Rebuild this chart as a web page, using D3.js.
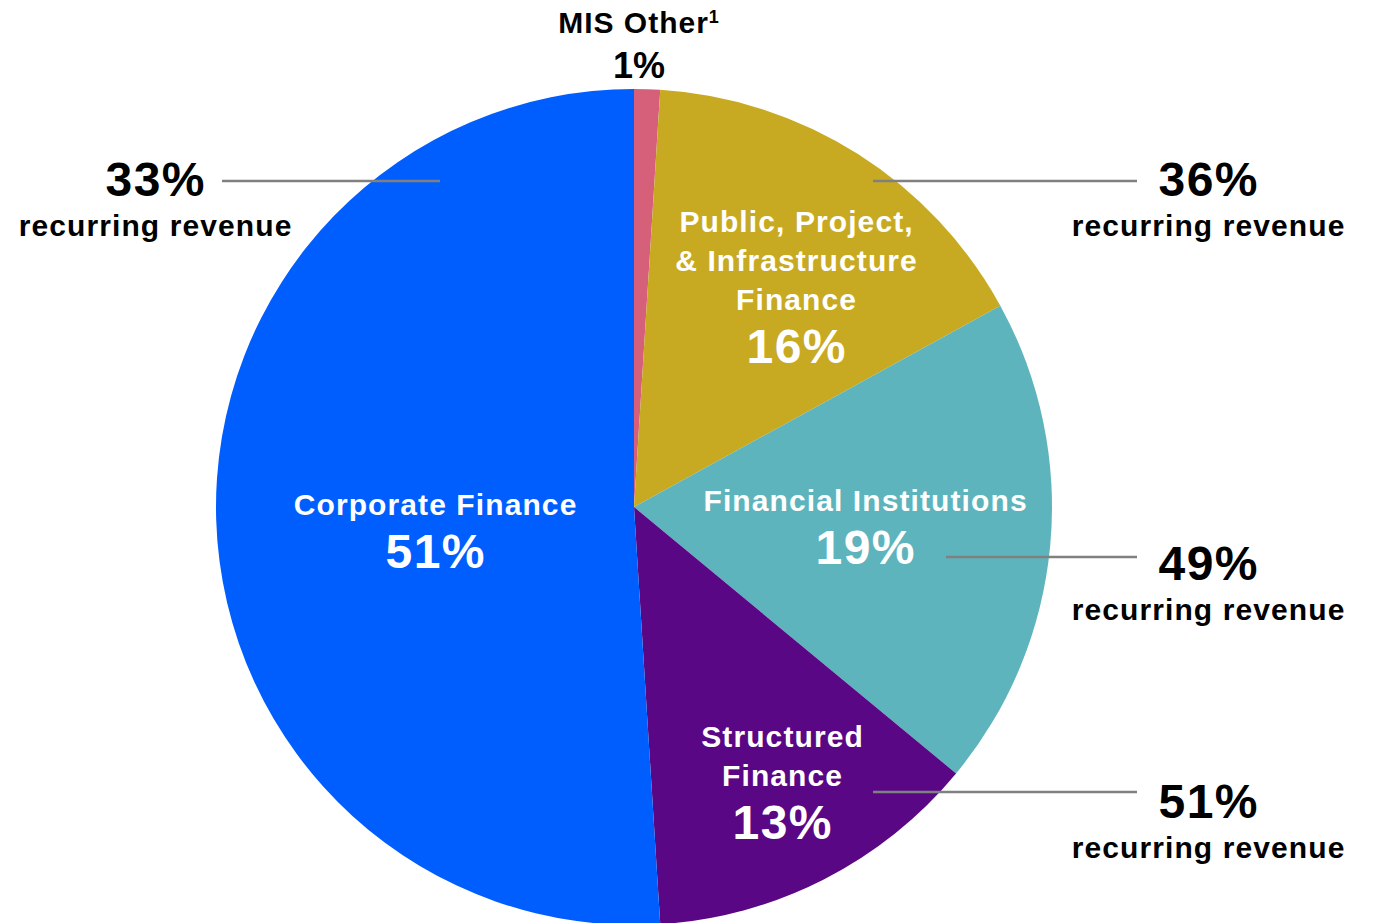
<!DOCTYPE html>
<html>
<head>
<meta charset="utf-8">
<script src="https://cdn.jsdelivr.net/npm/d3@7"></script>
<style>
  body { margin: 0; background: #fff; }
  text { font-family: "Liberation Sans", Arial, sans-serif; font-weight: bold; }
</style>
</head>
<body>
<div id="chart"></div>
<script>
// Data
const segments = ["MIS Other", "Public, Project, & Infrastructure Finance", "Financial Institutions", "Structured Finance", "Corporate Finance"];
const shares = [1, 16, 19, 13, 51];
const colors = ["#D6607A", "#C8AA22", "#5EB4BC", "#5A0785", "#005EFF"];
// recurring revenue share per segment (null = not shown)
const recurring = [null, 36, 49, 51, 33];

const width = 1373, height = 923;
const cx = 634, cy = 507, radius = 418;

const svg = d3.select("#chart")
    .append("svg")
    .attr("width", width)
    .attr("height", height);

const g = svg.append("g")
    .attr("transform", `translate(${cx},${cy})`);

const data = segments.map((name, i) => ({name, value: shares[i], color: colors[i], rec: recurring[i]}));

const pie = d3.pie().sort(null).value(d => d.value);
const arc = d3.arc().innerRadius(0).outerRadius(radius);
const arcs = pie(data);

g.selectAll("path")
    .data(arcs)
    .enter()
    .append("path")
    .attr("d", arc)
    .attr("fill", d => d.data.color);

// Label layout (lines of names, offsets from pie center)
const labelLayout = {
    "Public, Project, & Infrastructure Finance": {x: 162, y: -275, lines: ["Public, Project,", "& Infrastructure", "Finance"]},
    "Financial Institutions": {x: 231, y: 4, lines: ["Financial Institutions"]},
    "Structured Finance": {x: 148, y: 240, lines: ["Structured", "Finance"]},
    "Corporate Finance": {x: -199, y: 8, lines: ["Corporate Finance"]}
};

arcs.forEach(a => {
    const L = labelLayout[a.data.name];
    if (!L) return;
    const t = g.append("g").attr("transform", `translate(${L.x},${L.y})`);
    L.lines.forEach((ln, i) => {
        t.append("text")
            .attr("x", 0.55)
            .attr("y", i * 39)
            .attr("text-anchor", "middle")
            .attr("fill", "#fff")
            .style("font-size", "30px")
            .style("letter-spacing", "1.1px")
            .text(ln);
    });
    t.append("text")
        .attr("x", 0.75)
        .attr("y", (L.lines.length - 1) * 39 + 53)
        .attr("text-anchor", "middle")
        .attr("fill", "#fff")
        .style("font-size", "48px")
        .style("letter-spacing", "1.5px")
        .text(a.data.value + "%");
});

// MIS Other label above the pie
const other = data[0];
const otherText = svg.append("text")
    .attr("x", 639).attr("y", 33)
    .attr("text-anchor", "middle")
    .style("font-size", "30px")
    .style("letter-spacing", "1px")
    .attr("fill", "#000");
otherText.append("tspan").text(other.name);
otherText.append("tspan").attr("dy", -10).style("font-size", "18px").text("1");
svg.append("text")
    .attr("x", 639).attr("y", 78)
    .attr("text-anchor", "middle")
    .style("font-size", "36px")
    .text(other.value + "%");

// Recurring revenue callouts
const callouts = {
    "Public, Project, & Infrastructure Finance": {x1: 873, x2: 1137, y: 181, tx: 1208, ty: 196},
    "Financial Institutions": {x1: 946, x2: 1137, y: 557, tx: 1208, ty: 580},
    "Structured Finance": {x1: 873, x2: 1137, y: 792, tx: 1208, ty: 818},
    "Corporate Finance": {x1: 222, x2: 440, y: 181, tx: 155, ty: 196}
};

data.forEach(d => {
    const c = callouts[d.name];
    if (!c) return;
    svg.append("line")
        .attr("x1", c.x1).attr("x2", c.x2)
        .attr("y1", c.y).attr("y2", c.y)
        .attr("stroke", "#808080")
        .attr("stroke-width", 2.5);
    svg.append("text")
        .attr("x", c.tx + 0.75).attr("y", c.ty)
        .attr("text-anchor", "middle")
        .style("font-size", "48px")
        .style("letter-spacing", "1.5px")
        .text(d.rec + "%");
    svg.append("text")
        .attr("x", c.tx + 0.55).attr("y", c.ty + 40)
        .attr("text-anchor", "middle")
        .style("font-size", "30px")
        .style("letter-spacing", "1.1px")
        .text("recurring revenue");
});
</script>
</body>
</html>
